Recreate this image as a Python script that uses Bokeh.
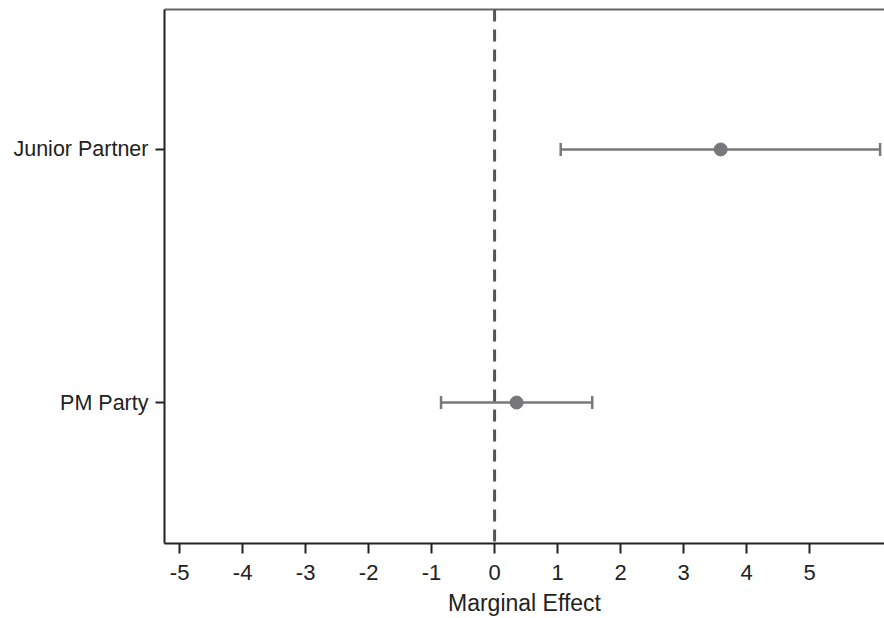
from bokeh.plotting import figure
from bokeh.models import (ColumnDataSource, Whisker, TeeHead, Span, LinearAxis,
                          FixedTicker, Range1d)
from bokeh.embed import file_html
from bokeh.resources import INLINE

# ---- data ----
categories = ["PM Party", "Junior Partner"]
positions = [1, 2]
estimates = [0.35, 3.59]
lower = [-0.85, 1.05]
upper = [1.55, 6.12]
x_ticks = [-5, -4, -3, -2, -1, 0, 1, 2, 3, 4, 5]
x_tick_labels = ["-5", "-4", "-3", "-2", "-1", "0", "1", "2", "3", "4", "5"]
x_label = "Marginal Effect"

FONT = "Liberation Sans"
TXT = "#222222"
BAR = "#78787c"

src = ColumnDataSource(dict(y=positions, est=estimates, lo=lower, hi=upper))

p = figure(width=884, height=618, output_backend="svg", toolbar_location=None,
           x_range=Range1d(-5.24, 6.19), y_range=Range1d(0.443, 2.553),
           min_border_left=164, min_border_right=0, min_border_top=9,
           min_border_bottom=75, x_axis_location=None, y_axis_location=None)
p.outline_line_color = None
p.xgrid.visible = False
p.ygrid.visible = False
p.background_fill_color = "white"
p.border_fill_color = "white"

# bottom axis
xa = LinearAxis(ticker=FixedTicker(ticks=x_ticks), axis_label=x_label,
                major_label_overrides={t: s for t, s in zip(x_ticks, x_tick_labels)})
xa.axis_line_color = TXT
xa.axis_line_width = 2
xa.major_tick_line_color = TXT
xa.major_tick_line_width = 2
xa.major_tick_out = 10
xa.major_tick_in = 0
xa.minor_tick_line_color = None
xa.major_label_text_font = FONT
xa.major_label_text_font_size = "22px"
xa.major_label_text_color = TXT
xa.major_label_standoff = 11
xa.axis_label_text_font = FONT
xa.axis_label_text_font_size = "23px"
xa.axis_label_text_font_style = "normal"
xa.axis_label_text_color = TXT
xa.axis_label_standoff = 7
p.add_layout(xa, "below")

# left axis
ya = LinearAxis(ticker=FixedTicker(ticks=positions),
                major_label_overrides={pos: c for pos, c in zip(positions, categories)})
ya.axis_line_color = TXT
ya.axis_line_width = 2
ya.major_tick_line_color = TXT
ya.major_tick_line_width = 2
ya.major_tick_out = 9
ya.major_tick_in = 0
ya.minor_tick_line_color = None
ya.major_label_text_font = FONT
ya.major_label_text_font_size = "21.5px"
ya.major_label_text_color = TXT
ya.major_label_standoff = 7
p.add_layout(ya, "left")

# top border line
ta = LinearAxis(ticker=FixedTicker(ticks=[]))
ta.axis_line_color = "#666666"
ta.axis_line_width = 2
ta.major_tick_line_color = None
ta.minor_tick_line_color = None
ta.major_label_text_font_size = "0px"
p.add_layout(ta, "above")

# error bars
w = Whisker(source=src, base="y", lower="lo", upper="hi", dimension="width",
            line_color=BAR, line_width=2.5,
            lower_head=TeeHead(size=13, line_color=BAR, line_width=2.5),
            upper_head=TeeHead(size=13, line_color=BAR, line_width=2.5))
p.add_layout(w)

p.scatter(x="est", y="y", source=src, size=13, fill_color=BAR, line_color=BAR)

# zero reference line
p.add_layout(Span(location=0, dimension="height", line_color="#555555",
                  line_width=3, line_dash="12 8", level="overlay"))

open("out.html", "w").write(file_html(p, INLINE))
